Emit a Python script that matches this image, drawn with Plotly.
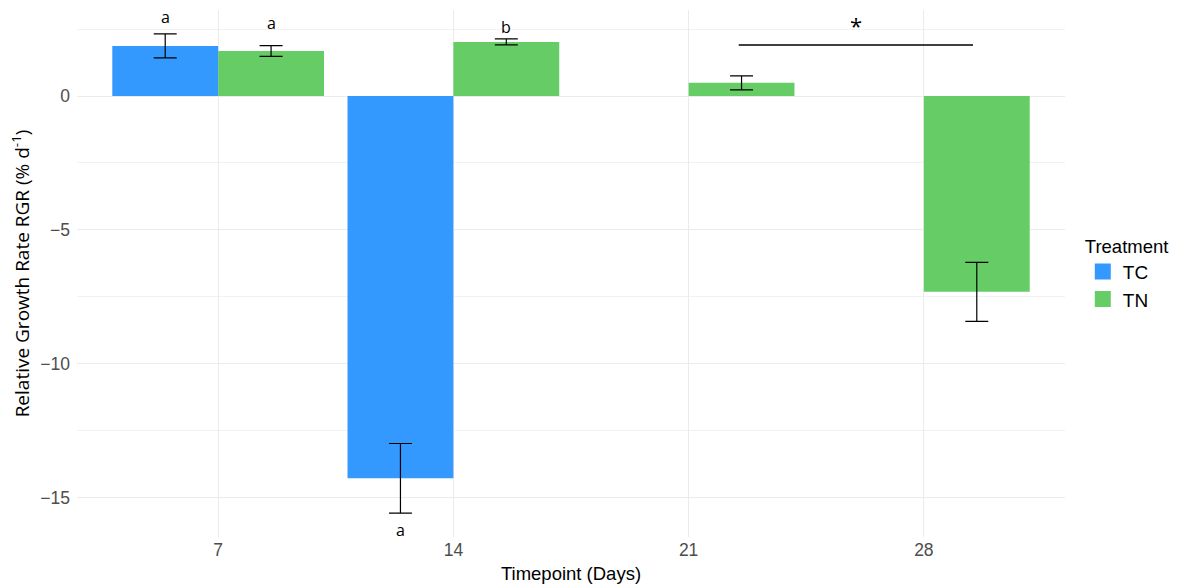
import plotly.graph_objects as go

categories = ["7", "14", "21", "28"]
tc_values = [1.87, -14.27, None, None]
tc_err = [0.45, 1.3, None, None]
tn_values = [1.68, 2.02, 0.49, -7.31]
tn_err = [0.2, 0.11, 0.26, 1.1]

treatments = ["TC", "TN"]
colors = ["#3399FF", "#66CC66"]

letter_x = [-0.225, 0.225, 0.775, 1.225]
letter_y = [2.95, 2.72, -16.2, 2.57]
letter_text = ["a", "a", "a", "b"]

sig_x = [2.213, 3.209]
sig_y = 1.9
sig_text = "*"

fig = go.Figure()
for name, vals, errs, col in zip(treatments, [tc_values, tn_values], [tc_err, tn_err], colors):
    fig.add_trace(go.Bar(
        name=name, x=categories, y=vals, marker_color=col, marker_line_width=0,
        showlegend=False,
        error_y=dict(type="data", array=errs, color="black", thickness=1.2, width=11.5),
    ))
# legend keys (large squares like the reference)
for name, col in zip(treatments, colors):
    fig.add_trace(go.Scatter(
        name=name, x=[None], y=[None], mode="markers",
        marker=dict(symbol="square", size=16, color=col), showlegend=True,
    ))

for x, y, t in zip(letter_x, letter_y, letter_text):
    fig.add_annotation(x=x, y=y, text=t, showarrow=False,
                       font=dict(family="Open Sans", size=16, color="black"))

fig.add_shape(type="line", x0=sig_x[0], x1=sig_x[1], y0=sig_y, y1=sig_y,
              line=dict(color="black", width=1.5))
fig.add_annotation(x=(sig_x[0] + sig_x[1]) / 2, y=sig_y, yshift=20, text=sig_text,
                   showarrow=False, font=dict(family="Open Sans", size=22, color="black"))

grid = "#EBEBEB"
fig.update_layout(
    width=1179, height=587,
    margin=dict(l=77, r=114, t=10, b=50, autoexpand=False),
    plot_bgcolor="white", paper_bgcolor="white",
    barmode="group", bargap=0.1, bargroupgap=0,
    font=dict(family="Liberation Sans, Arial, sans-serif", size=16, color="black"),
    legend=dict(title=dict(text="Treatment", font=dict(size=18.5)), font=dict(size=19),
                x=1.018, xanchor="left", y=0.5, yanchor="middle",
                itemsizing="trace", tracegroupgap=0),
    xaxis=dict(type="category", range=[-0.6, 3.6], showgrid=True, gridcolor=grid, gridwidth=1,
               zeroline=False, showline=False, ticks="",
               tickfont=dict(size=17.5, color="#4D4D4D"),
               title=dict(text="Timepoint (Days)", font=dict(size=18.5), standoff=8)),
    yaxis=dict(range=[-16.46, 3.21], dtick=5, tick0=0, showgrid=True, gridcolor=grid, gridwidth=1.2,
               zeroline=False, showline=False, ticks="", ticklabelstandoff=6,
               minor=dict(dtick=2.5, tick0=0, showgrid=True, gridcolor="#F2F2F2", gridwidth=0.8),
               tickfont=dict(size=17.5, color="#4D4D4D"),
               title=dict(text="Relative Growth Rate RGR (% d<sup>-1</sup>)",
                          font=dict(family="Open Sans", size=19), standoff=5)),
)

fig.write_html("out.html")
